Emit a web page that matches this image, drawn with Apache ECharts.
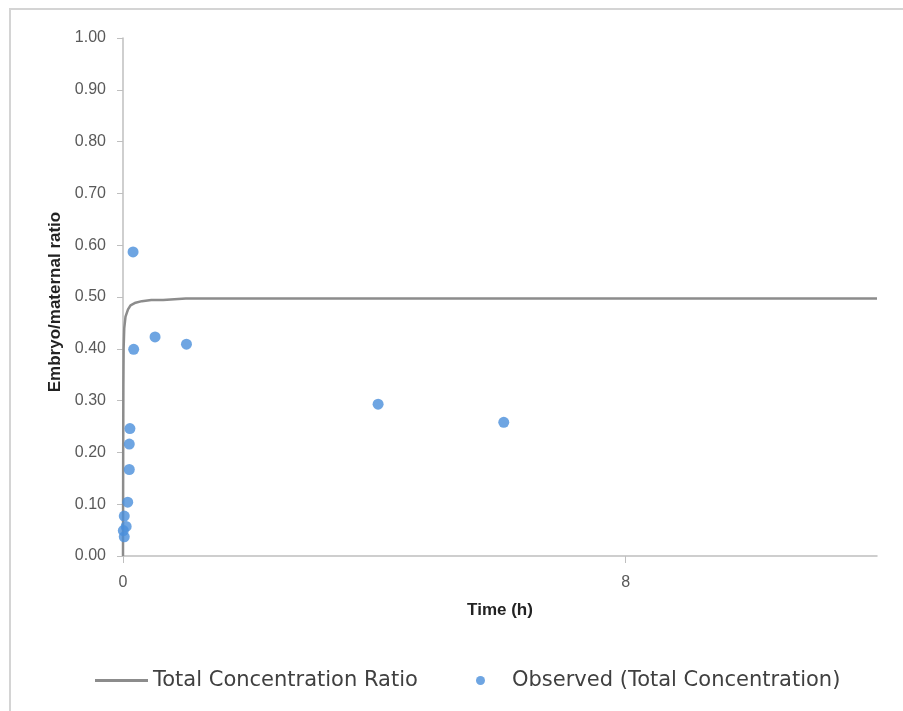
<!DOCTYPE html>
<html>
<head>
<meta charset="utf-8">
<script src="https://cdn.jsdelivr.net/npm/echarts@6/dist/echarts.min.js"></script>
<style>
  html, body { margin: 0; padding: 0; background: #fff; }
  #chart { width: 903px; height: 711px; }
</style>
</head>
<body>
<div id="chart"></div>
<script>
// Model curve: total concentration embryo/maternal ratio over time (h)
const modelTime  = [0, 0.003, 0.006, 0.01, 0.02, 0.04, 0.08, 0.12, 0.2, 0.3, 0.45, 0.64, 0.66, 1, 4, 8, 12];
const modelRatio = [0, 0.2, 0.33, 0.4, 0.44, 0.462, 0.476, 0.484, 0.489, 0.492, 0.494, 0.494, 0.497, 0.497, 0.497, 0.497, 0.497];

// Observed total concentration ratios
const obsTime  = [0.16, 0.17, 0.51, 1.01, 0.11, 0.10, 0.10, 0.075, 0.02, 0.05, 0.005, 0.02, 4.06, 6.06];
const obsRatio = [0.587, 0.399, 0.423, 0.409, 0.246, 0.216, 0.167, 0.104, 0.077, 0.057, 0.049, 0.037, 0.293, 0.258];

const xTicks = [0, 8];

const chart = echarts.init(document.getElementById('chart'), null, { renderer: 'canvas' });

const axisGray = '#bfbfbf';
const labelGray = '#595959';
const lineGray = '#8c8c8c';
const dotBlue = '#4a8fdb';
const legendText = { fontFamily: 'DejaVu Sans', fontSize: 21, color: '#404040' };

chart.setOption({
  backgroundColor: '#ffffff',
  animation: false,
  graphic: [{
    type: 'rect',
    shape: { x: 10, y: 9, width: 1000, height: 1000 },
    style: { fill: 'none', stroke: '#d4d4d4', lineWidth: 2 },
    silent: true
  }],
  grid: { left: 123, top: 38, right: 26, bottom: 155 },
  legend: [
    {
      bottom: 20,
      left: 95,
      padding: 0,
      itemWidth: 53,
      itemHeight: 3,
      textStyle: legendText,
      data: [{ name: 'Total Concentration Ratio', icon: 'rect', itemStyle: { color: lineGray } }]
    },
    {
      bottom: 20,
      left: 476,
      padding: 0,
      itemWidth: 53,
      itemHeight: 9,
      textStyle: legendText,
      data: [{ name: 'Observed (Total Concentration)', icon: 'circle' }]
    }
  ],
  xAxis: {
    type: 'value',
    min: 0,
    max: 12,
    interval: 4,
    name: 'Time (h)',
    nameLocation: 'middle',
    nameGap: 46,
    nameTextStyle: { fontFamily: 'Liberation Sans', fontWeight: 'bold', fontSize: 17, color: '#222' },
    axisLine: { show: true, lineStyle: { color: axisGray, width: 1.5 } },
    axisTick: { show: true, length: 7, customValues: xTicks, lineStyle: { color: axisGray } },
    axisLabel: { customValues: xTicks, margin: 19, color: labelGray, fontFamily: 'Liberation Sans', fontSize: 16 },
    splitLine: { show: false }
  },
  yAxis: {
    type: 'value',
    min: 0,
    max: 1,
    interval: 0.1,
    name: 'Embryo/maternal ratio',
    nameLocation: 'middle',
    nameGap: 55,
    nameTextStyle: { fontFamily: 'Liberation Sans', fontWeight: 'bold', fontSize: 17, color: '#222', padding: [0, 10, 0, 0] },
    axisLine: { show: true, lineStyle: { color: axisGray, width: 1.5 } },
    axisTick: { show: true, length: 6, lineStyle: { color: axisGray } },
    axisLabel: { margin: 17, color: labelGray, fontFamily: 'Liberation Sans', fontSize: 16, formatter: v => v.toFixed(2) },
    splitLine: { show: false }
  },
  series: [
    {
      name: 'Total Concentration Ratio',
      type: 'line',
      data: modelTime.map((t, i) => [t, modelRatio[i]]),
      showSymbol: false,
      symbol: 'none',
      lineStyle: { color: lineGray, width: 2.5 },
      itemStyle: { color: lineGray },
      z: 2
    },
    {
      name: 'Observed (Total Concentration)',
      type: 'scatter',
      data: obsTime.map((t, i) => [t, obsRatio[i]]),
      symbol: 'circle',
      symbolSize: 11,
      itemStyle: { color: dotBlue },
      z: 3
    }
  ]
});
</script>
</body>
</html>
